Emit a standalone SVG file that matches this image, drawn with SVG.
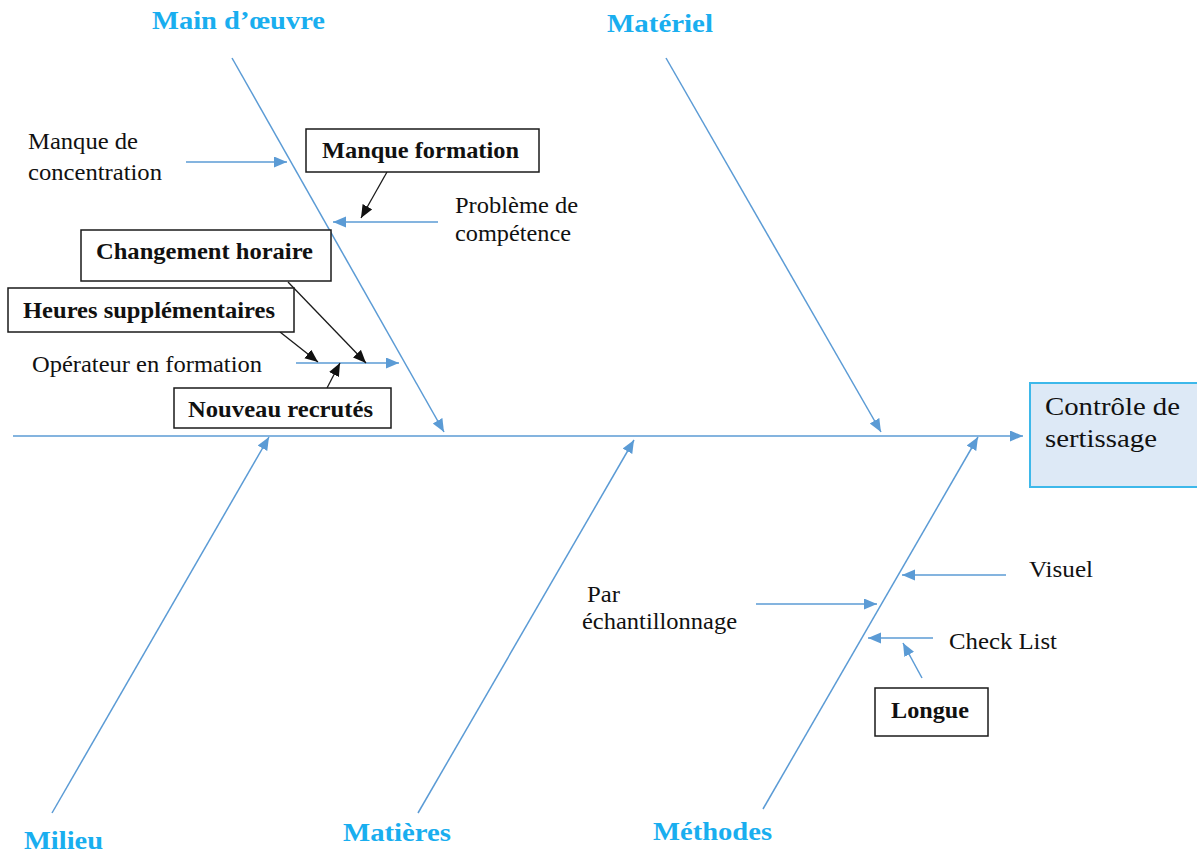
<svg xmlns="http://www.w3.org/2000/svg" width="1197" height="852" viewBox="0 0 1197 852">
<style>
.b{stroke:#5b9bd5;stroke-width:1.5;fill:none}
.k{stroke:#1a1a1a;stroke-width:1.3;fill:none}
.t{font-family:"Liberation Serif","Times New Roman",serif;font-size:24px;fill:#111}
.tb{font-family:"Liberation Serif","Times New Roman",serif;font-size:23px;font-weight:bold;fill:#111}
.cat{font-family:"Liberation Serif","Times New Roman",serif;font-size:25px;font-weight:bold;fill:#19aeef}
.box{fill:#fff;stroke:#1a1a1a;stroke-width:1.5}
</style>
<defs>
<marker id="ab" markerUnits="userSpaceOnUse" markerWidth="14" markerHeight="12" refX="13" refY="5.5" orient="auto"><path d="M0,0 L13,5.5 L0,11 z" fill="#5b9bd5"/></marker>
<marker id="ak" markerUnits="userSpaceOnUse" markerWidth="14" markerHeight="12" refX="13" refY="5.5" orient="auto"><path d="M0,0 L13,5.5 L0,11 z" fill="#111"/></marker>
</defs>
<rect width="1197" height="852" fill="#fff"/>
<g id="connectors">
<line class="b" x1="13" y1="436" x2="1023" y2="436" marker-end="url(#ab)"/>
<line class="b" x1="232" y1="58" x2="444" y2="432" marker-end="url(#ab)"/>
<line class="b" x1="666" y1="58" x2="881" y2="432" marker-end="url(#ab)"/>
<line class="b" x1="52" y1="813" x2="269" y2="437" marker-end="url(#ab)"/>
<line class="b" x1="418" y1="813" x2="634" y2="440" marker-end="url(#ab)"/>
<line class="b" x1="763" y1="809" x2="978" y2="437" marker-end="url(#ab)"/>
<line class="b" x1="186" y1="162" x2="287" y2="162" marker-end="url(#ab)"/>
<line class="b" x1="438" y1="222" x2="333" y2="222" marker-end="url(#ab)"/>
<line class="b" x1="296" y1="363" x2="399" y2="363" marker-end="url(#ab)"/>
<line class="k" x1="387" y1="172" x2="361" y2="218" marker-end="url(#ak)"/>
<line class="k" x1="288" y1="282" x2="366" y2="363" marker-end="url(#ak)"/>
<line class="k" x1="280" y1="332" x2="318" y2="362" marker-end="url(#ak)"/>
<line class="k" x1="327" y1="388" x2="340" y2="363" marker-end="url(#ak)"/>
<line class="b" x1="1006" y1="575" x2="902" y2="575" marker-end="url(#ab)"/>
<line class="b" x1="756" y1="604" x2="877" y2="604" marker-end="url(#ab)"/>
<line class="b" x1="933" y1="638" x2="868" y2="638" marker-end="url(#ab)"/>
<line class="b" x1="922" y1="678" x2="903" y2="643" marker-end="url(#ab)"/>
</g>
<g id="effect">
<rect x="1030" y="383" width="170" height="104" fill="#dde9f6" stroke="#3db8ea" stroke-width="2"/>
<text class="t" style="font-size:26px" x="1045" y="415" textLength="135" lengthAdjust="spacingAndGlyphs">Contrôle de</text>
<text class="t" style="font-size:26px" x="1045" y="447" textLength="112" lengthAdjust="spacingAndGlyphs">sertissage</text>
</g>
<g id="cat-main-oeuvre"><text class="cat" x="152" y="29" textLength="173" lengthAdjust="spacingAndGlyphs">Main d’œuvre</text></g>
<g id="cat-materiel"><text class="cat" x="607" y="32" textLength="106" lengthAdjust="spacingAndGlyphs">Matériel</text></g>
<g id="cat-milieu"><text class="cat" x="24" y="849" textLength="79" lengthAdjust="spacingAndGlyphs">Milieu</text></g>
<g id="cat-matieres"><text class="cat" x="343" y="841" textLength="108" lengthAdjust="spacingAndGlyphs">Matières</text></g>
<g id="cat-methodes"><text class="cat" x="653" y="840" textLength="119" lengthAdjust="spacingAndGlyphs">Méthodes</text></g>
<g id="manque-concentration">
<text class="t" x="28" y="149" textLength="110" lengthAdjust="spacingAndGlyphs">Manque de</text>
<text class="t" x="28" y="180" textLength="134" lengthAdjust="spacingAndGlyphs">concentration</text>
</g>
<g id="probleme-competence">
<text class="t" x="455" y="213" textLength="123" lengthAdjust="spacingAndGlyphs">Problème de</text>
<text class="t" x="455" y="241" textLength="116" lengthAdjust="spacingAndGlyphs">compétence</text>
</g>
<g id="manque-formation">
<rect class="box" x="306" y="129" width="233" height="43"/>
<text class="tb" x="322" y="158" textLength="197" lengthAdjust="spacingAndGlyphs">Manque formation</text>
</g>
<g id="changement-horaire">
<rect class="box" x="81" y="230" width="250" height="51"/>
<text class="tb" x="96" y="259" textLength="217" lengthAdjust="spacingAndGlyphs">Changement horaire</text>
</g>
<g id="heures-supplementaires">
<rect class="box" x="8" y="288" width="286" height="44"/>
<text class="tb" x="23" y="318" textLength="252" lengthAdjust="spacingAndGlyphs">Heures supplémentaires</text>
</g>
<g id="operateur-formation">
<text class="t" x="32" y="372" textLength="230" lengthAdjust="spacingAndGlyphs">Opérateur en formation</text>
</g>
<g id="nouveau-recrutes">
<rect class="box" x="174" y="388" width="217" height="40"/>
<text class="tb" x="188" y="417" textLength="185" lengthAdjust="spacingAndGlyphs">Nouveau recrutés</text>
</g>
<g id="visuel"><text class="t" x="1029" y="577" textLength="64" lengthAdjust="spacingAndGlyphs">Visuel</text></g>
<g id="par-echantillonnage">
<text class="t" x="587" y="602" textLength="33" lengthAdjust="spacingAndGlyphs">Par</text>
<text class="t" x="582" y="629" textLength="155" lengthAdjust="spacingAndGlyphs">échantillonnage</text>
</g>
<g id="check-list"><text class="t" x="949" y="649" textLength="108" lengthAdjust="spacingAndGlyphs">Check List</text></g>
<g id="longue">
<rect class="box" x="875" y="688" width="113" height="48"/>
<text class="tb" x="891" y="718" textLength="78" lengthAdjust="spacingAndGlyphs">Longue</text>
</g>
</svg>
